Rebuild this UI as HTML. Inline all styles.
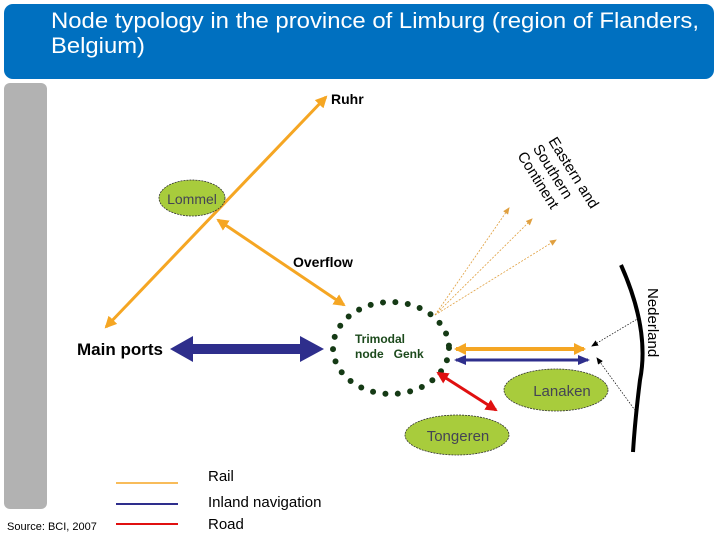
<!DOCTYPE html>
<html><head><style>
body{margin:0;background:#fff;width:720px;height:540px;overflow:hidden;font-family:"Liberation Sans",sans-serif}
</style></head><body>
<svg width="720" height="540" xmlns="http://www.w3.org/2000/svg" font-family="Liberation Sans, sans-serif">
<defs>
<marker id="oa" markerWidth="14" markerHeight="14" refX="10" refY="7" orient="auto-start-reverse" markerUnits="userSpaceOnUse"><path d="M0,1 L12,7 L0,13 z" fill="#f5a623"/></marker>
<marker id="ba" markerWidth="14" markerHeight="14" refX="10" refY="7" orient="auto-start-reverse" markerUnits="userSpaceOnUse"><path d="M0,2 L12,7 L0,12 z" fill="#2e2e8c"/></marker>
<marker id="ra" markerWidth="14" markerHeight="14" refX="10" refY="7" orient="auto-start-reverse" markerUnits="userSpaceOnUse"><path d="M0,1 L12,7 L0,13 z" fill="#e01010"/></marker>
<marker id="ta" markerWidth="8" markerHeight="8" refX="6" refY="4" orient="auto" markerUnits="userSpaceOnUse"><path d="M0,1 L7,4 L0,7 z" fill="#e0a040"/></marker>
<marker id="ka" markerWidth="8" markerHeight="8" refX="6" refY="4" orient="auto" markerUnits="userSpaceOnUse"><path d="M0,1 L7,4 L0,7 z" fill="#000"/></marker>
</defs>
<rect x="4" y="4" width="710" height="75" rx="9" fill="#0070c0"/>
<text x="51" y="28" font-size="22" fill="#fff" textLength="648" lengthAdjust="spacingAndGlyphs">Node typology in the province of Limburg (region of Flanders,</text>
<text x="51" y="53" font-size="22" fill="#fff" textLength="94" lengthAdjust="spacingAndGlyphs">Belgium)</text>
<rect x="4" y="83" width="43" height="426" rx="6" fill="#b2b2b2"/>

<line x1="106" y1="327" x2="326" y2="97" stroke="#f5a623" stroke-width="3" marker-start="url(#oa)" marker-end="url(#oa)"/>
<ellipse cx="192" cy="198" rx="33" ry="18" fill="#a8cc3c" stroke="#333" stroke-width="0.8" stroke-dasharray="2,1"/>
<text x="192" y="204" font-size="14" fill="#445" text-anchor="middle">Lommel</text>
<line x1="218" y1="220" x2="344" y2="305" stroke="#f5a623" stroke-width="3" marker-start="url(#oa)" marker-end="url(#oa)"/>
<text x="331" y="104" font-size="14" font-weight="bold">Ruhr</text>
<text x="293" y="267" font-size="14" font-weight="bold">Overflow</text>
<text x="77" y="355" font-size="17" font-weight="bold">Main ports</text>
<path d="M170,349 L193,336 L193,344 L300,344 L300,336 L324,349 L300,362 L300,354 L193,354 L193,362 z" fill="#2e2e8c"/>

<ellipse cx="391" cy="348" rx="58" ry="46" fill="none" stroke="#153a15" stroke-width="6" stroke-linecap="round" stroke-dasharray="0,12.5"/>
<text x="355" y="343" font-size="12" font-weight="bold" fill="#1c4a1c">Trimodal</text>
<text x="355" y="358" font-size="12" font-weight="bold" fill="#1c4a1c">node&#160;&#160;&#160;Genk</text>

<line x1="456" y1="349" x2="584" y2="349" stroke="#f5a623" stroke-width="4" marker-start="url(#oa)" marker-end="url(#oa)"/>
<line x1="456" y1="360" x2="588" y2="360" stroke="#2e2e8c" stroke-width="3" marker-start="url(#ba)" marker-end="url(#ba)"/>
<line x1="438" y1="373" x2="496" y2="410" stroke="#e01010" stroke-width="3" marker-start="url(#ra)" marker-end="url(#ra)"/>

<ellipse cx="556" cy="390" rx="52" ry="21" fill="#a8cc3c" stroke="#333" stroke-width="0.8" stroke-dasharray="2,1"/>
<text x="562" y="396" font-size="15" fill="#445" text-anchor="middle">Lanaken</text>
<ellipse cx="457" cy="435" rx="52" ry="20" fill="#a8cc3c" stroke="#333" stroke-width="0.8" stroke-dasharray="2,1"/>
<text x="458" y="441" font-size="15" fill="#445" text-anchor="middle">Tongeren</text>

<line x1="435" y1="315" x2="509" y2="208" stroke="#e0a040" stroke-width="0.8" stroke-dasharray="2,1.5" marker-end="url(#ta)"/>
<line x1="435" y1="315" x2="532" y2="219" stroke="#e0a040" stroke-width="0.8" stroke-dasharray="2,1.5" marker-end="url(#ta)"/>
<line x1="435" y1="315" x2="556" y2="240" stroke="#e0a040" stroke-width="0.8" stroke-dasharray="2,1.5" marker-end="url(#ta)"/>
<g transform="translate(548,141) rotate(58)" font-size="15">
<text x="0" y="0">Eastern and</text>
<text x="-2" y="17">Southern</text>
<text x="-4" y="34">Continent</text>
</g>

<path d="M621,265 Q650,330 640,380 Q635,420 633,452" fill="none" stroke="#000" stroke-width="4"/>
<text transform="translate(648,288) rotate(90)" font-size="15">Nederland</text>
<line x1="639" y1="318" x2="592" y2="346" stroke="#000" stroke-width="0.7" stroke-dasharray="1.5,1.5" marker-end="url(#ka)"/>
<line x1="637" y1="413" x2="597" y2="358" stroke="#000" stroke-width="0.7" stroke-dasharray="1.5,1.5" marker-end="url(#ka)"/>

<line x1="116" y1="483" x2="178" y2="483" stroke="#f5a623" stroke-width="1.5"/>
<line x1="116" y1="504" x2="178" y2="504" stroke="#2e2e8c" stroke-width="2"/>
<line x1="116" y1="524" x2="178" y2="524" stroke="#e01010" stroke-width="2"/>
<text x="208" y="481" font-size="15">Rail</text>
<text x="208" y="507" font-size="15">Inland navigation</text>
<text x="208" y="529" font-size="15">Road</text>
<text x="7" y="530" font-size="11">Source: BCI, 2007</text>
</svg>
</body></html>
